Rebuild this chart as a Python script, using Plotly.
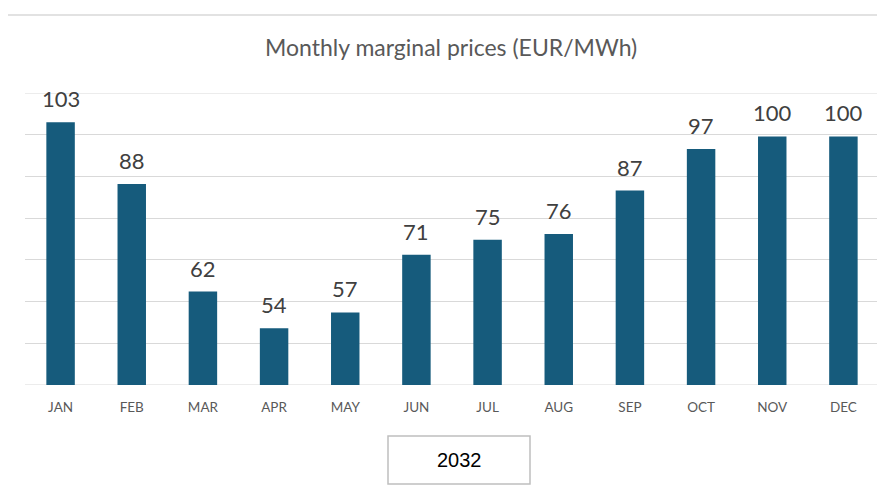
import plotly.graph_objects as go

months = ["JAN", "FEB", "MAR", "APR", "MAY", "JUN", "JUL", "AUG", "SEP", "OCT", "NOV", "DEC"]
prices = [103.0, 88.2, 62.4, 53.6, 57.4, 71.2, 74.8, 76.2, 86.6, 96.6, 99.6, 99.6]
labels = [f"{round(v):d}" for v in prices]
title_text = "Monthly marginal prices (EUR/MWh)"
year_text = "2032"
y_min, y_max, y_step = 40, 110, 10

# the page body has an 8px margin, so the figure starts at page pixel (8, 8)
OFF = 8
W, H = 885 - OFF, 487 - OFF
L, R, T, B = 25 - OFF, 6, 93 - OFF, 102
pw, ph = W - L - R, H - T - B

def px_x(x):
    return (x - OFF - L) / pw

def px_y(y):
    return (H - B - (y - OFF)) / ph

fig = go.Figure(go.Bar(
    x=months, y=prices,
    marker=dict(color="#165B7C", line=dict(width=0)),
    cliponaxis=False, hoverinfo="skip",
))

label_annots = [
    dict(text=t, x=m, y=v, xref="x", yref="y", showarrow=False,
         xanchor="center", yanchor="bottom", yshift=8,
         font=dict(family="Lato", size=22, color="#404040"))
    for m, v, t in zip(months, prices, labels)
]

fig.update_layout(
    width=W, height=H,
    margin=dict(l=L, r=R, t=T, b=B),
    paper_bgcolor="white", plot_bgcolor="white",
    bargap=0.6, showlegend=False,
    font=dict(family="Lato"),
    xaxis=dict(showgrid=False, showline=False, ticks="outside", ticklen=10,
               tickcolor="rgba(0,0,0,0)",
               tickfont=dict(family="Lato", size=13.5, color="#595959")),
    yaxis=dict(range=[y_min, y_max], dtick=y_step, showgrid=True, gridcolor="#D9D9D9",
               gridwidth=1, showticklabels=False, zeroline=False, showline=False, ticks=""),
    shapes=[
        dict(type="line", xref="paper", yref="paper", x0=px_x(7), x1=px_x(890),
             y0=px_y(15), y1=px_y(15), line=dict(color="#D9D9D9", width=1.5)),
        dict(type="line", xref="paper", yref="paper", x0=px_x(7), x1=px_x(7),
             y0=px_y(15), y1=px_y(490), line=dict(color="#D9D9D9", width=1.5)),
        dict(type="line", xref="paper", yref="y", x0=0, x1=1,
             y0=y_min, y1=y_min, line=dict(color="#D9D9D9", width=1), layer="below"),
        dict(type="line", xref="paper", yref="y", x0=0, x1=1,
             y0=y_max, y1=y_max, line=dict(color="#D9D9D9", width=1), layer="below"),
        dict(type="rect", xref="paper", yref="paper", x0=px_x(388), x1=px_x(530),
             y0=px_y(484), y1=px_y(436), line=dict(color="#BFBFBF", width=1.5)),
    ],
    annotations=label_annots + [
        dict(text=title_text, xref="paper", yref="paper", x=px_x(451), y=px_y(47),
             showarrow=False, xanchor="center", yanchor="middle",
             font=dict(family="Lato", size=23, color="#595959")),
        dict(text=year_text, xref="paper", yref="paper", x=px_x(459), y=px_y(460),
             showarrow=False, xanchor="center", yanchor="middle",
             font=dict(family="Liberation Sans", size=20, color="#000000")),
    ],
)

fig.write_html("out.html")
